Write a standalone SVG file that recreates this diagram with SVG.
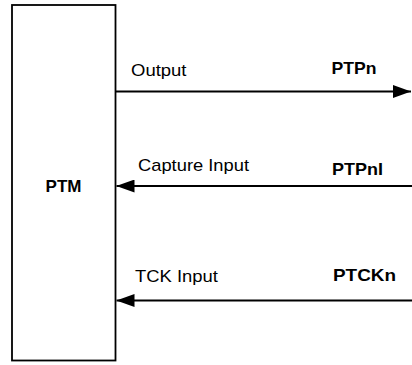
<svg xmlns="http://www.w3.org/2000/svg" width="412" height="365" viewBox="0 0 412 365">
<style>
.t{font-family:"Liberation Sans",Arial,sans-serif;font-size:17px;fill:#000}
.b{font-weight:bold}
.ln{stroke:#000;stroke-width:1.8;fill:none}
</style>
<defs>
<marker id="ah" markerWidth="18" markerHeight="13" refX="18" refY="6.5" orient="auto" markerUnits="userSpaceOnUse">
<path d="M0,0 L18,6.5 L0,13 Z" fill="#000"/>
</marker>
</defs>
<rect width="412" height="365" fill="#fff"/>
<g id="ptm">
<rect x="12" y="5" width="103.5" height="355.5" fill="#fff" stroke="#000" stroke-width="1.8"/>
<text class="t b" x="63.5" y="192" text-anchor="middle">PTM</text>
</g>
<g id="connectors">
<line class="ln" x1="115.5" y1="91.5" x2="411" y2="91.5" marker-end="url(#ah)"/>
<line class="ln" x1="412" y1="186" x2="116.5" y2="186" marker-end="url(#ah)"/>
<line class="ln" x1="412" y1="300.5" x2="116.5" y2="300.5" marker-end="url(#ah)"/>
</g>
<g id="labels">
<text class="t" x="131" y="75.5" textLength="55.5" lengthAdjust="spacingAndGlyphs">Output</text>
<text class="t b" x="331.5" y="73.5" textLength="45" lengthAdjust="spacingAndGlyphs">PTPn</text>
<text class="t" x="138" y="170.5" textLength="111" lengthAdjust="spacingAndGlyphs">Capture Input</text>
<text class="t b" x="332" y="175" textLength="51" lengthAdjust="spacingAndGlyphs">PTPnI</text>
<text class="t" x="135" y="281.5" textLength="83" lengthAdjust="spacingAndGlyphs">TCK Input</text>
<text class="t b" x="333" y="281" textLength="63" lengthAdjust="spacingAndGlyphs">PTCKn</text>
</g>
</svg>
